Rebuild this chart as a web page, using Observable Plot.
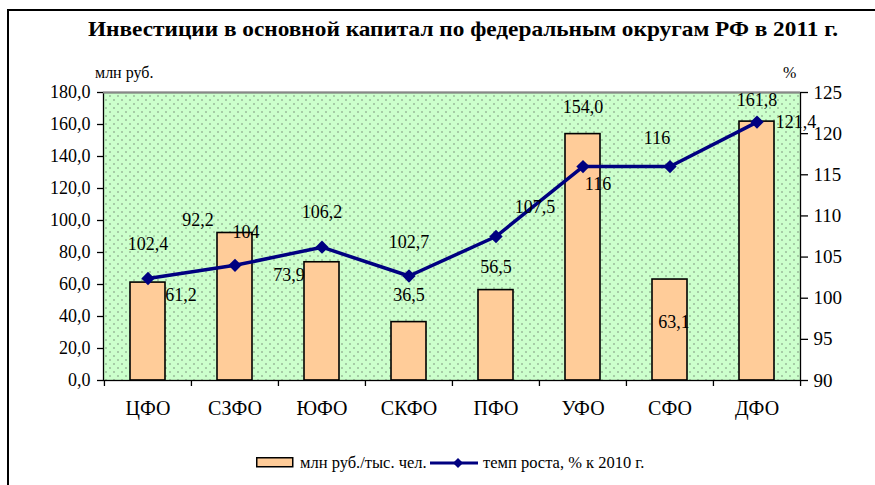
<!DOCTYPE html>
<html>
<head>
<meta charset="utf-8">
<script src="https://cdn.jsdelivr.net/npm/d3@7"></script>
<script src="https://cdn.jsdelivr.net/npm/@observablehq/plot@0.6"></script>
<style>
  html, body { margin: 0; padding: 0; background: #fff; }
  #wrap { position: relative; width: 875px; height: 485px; overflow: hidden; font-family: "Liberation Serif", "Times New Roman", serif; color: #000; }
  #border { position: absolute; left: 7px; top: 9px; width: 950px; height: 560px; border-left: 2.5px solid #000; border-top: 2.5px solid #000; }
  #title { position: absolute; left: 88px; top: 18px; font-weight: bold; font-size: 22px; line-height: 22px; white-space: nowrap; transform-origin: left top; }
  .unit { position: absolute; font-size: 16px; line-height: 16px; white-space: nowrap; }
  #chart { position: absolute; left: 0; top: 50px; }
  #chart svg text { font-family: "Liberation Serif", "Times New Roman", serif; }
  .leg { position: absolute; font-size: 16.5px; line-height: 16.5px; white-space: nowrap; }
</style>
</head>
<body>
<div id="wrap">
  <div id="border"></div>
  <div id="title">Инвестиции в основной капитал по федеральным округам РФ в 2011 г.</div>
  <div class="unit" style="left:95px; top:65px;">млн руб.</div>
  <div class="unit" style="left:783px; top:65px;">%</div>
  <div id="chart"></div>
  <svg class="leg" style="left:256px; top:457px;" width="40" height="12"><rect x="0.75" y="0.75" width="36" height="9" fill="#ffcc99" stroke="#000" stroke-width="1.5"/></svg>
  <div class="leg" style="left:300px; top:455px;">млн руб./тыс. чел.</div>
  <svg class="leg" style="left:428px; top:455px;" width="52" height="16"><line x1="2" y1="8" x2="50" y2="8" stroke="#000080" stroke-width="3"/><path d="M30,3 L35,8 L30,13 L25,8 Z" fill="#000080"/></svg>
  <div class="leg" style="left:483px; top:455px;">темп роста, % к 2010 г.</div>
</div>
<script>
// ---- data ----
const categories = ["ЦФО", "СЗФО", "ЮФО", "СКФО", "ПФО", "УФО", "СФО", "ДФО"];
const perCapita = [61.2, 92.2, 73.9, 36.5, 56.5, 154.0, 63.1, 161.8];   // млн руб./тыс. чел.
const growth = [102.4, 104, 106.2, 102.7, 107.5, 116, 116, 121.4];       // темп роста, % к 2010 г.
const leftTicks = [0, 20, 40, 60, 80, 100, 120, 140, 160, 180];
const rightTicks = [90, 95, 100, 105, 110, 115, 120, 125];
const leftDomain = [0, 180];
const rightDomain = [90, 125];

// ---- label nudges (pixel offsets, as in the original layout) ----
const barNudge = [[33, 13], [-37, -13], [-33, 13], [0, -27], [0, -23], [0, -27], [4, 43], [0, -21]];
const lineNudge = [[0, -34], [11, -33], [0, -35], [0, -34], [39, -29], [15, 18], [-13, -28], [39, 0]];

// ---- layout ----
const W = 875, H = 390, ML = 103, MR = 75, MT = 42, MB = 60;
const step = (W - ML - MR) / categories.length;

const toLeft = v => (v - rightDomain[0]) / (rightDomain[1] - rightDomain[0]) * (leftDomain[1] - leftDomain[0]) + leftDomain[0];
const fromLeft = v => (v - leftDomain[0]) / (leftDomain[1] - leftDomain[0]) * (rightDomain[1] - rightDomain[0]) + rightDomain[0];
const fmt1 = d => d.toFixed(1).replace(".", ",");
const fmtG = d => String(d).replace(".", ",");

const rows = categories.map((c, i) => ({c, v: perCapita[i], g: growth[i], gl: toLeft(growth[i])}));

const barLabels = rows.map((r, i) => Plot.text([r], {
  x: "c", y: "v", text: d => fmt1(d.v), dx: barNudge[i][0], dy: barNudge[i][1],
  fontSize: 18, fill: "#000"
}));
const lineLabels = rows.map((r, i) => Plot.text([r], {
  x: "c", y: "gl", text: d => fmtG(d.g), dx: lineNudge[i][0], dy: lineNudge[i][1],
  fontSize: 18, fill: "#000"
}));

const plot = Plot.plot({
  width: W, height: H,
  marginLeft: ML, marginRight: MR, marginTop: MT, marginBottom: MB,
  style: {fontFamily: "'Liberation Serif', 'Times New Roman', serif", fontSize: "18px", background: "transparent", color: "#000"},
  x: {domain: categories, paddingInner: 0.6, paddingOuter: 0.3},
  y: {domain: leftDomain},
  marks: [
    Plot.frame({fill: "url(#dots)", stroke: "none"}),
    Plot.barY(rows, {x: "c", y: "v", fill: "#ffcc99", stroke: "#000", strokeWidth: 1.6}),
    Plot.line(rows, {x: "c", y: "gl", stroke: "#000080", strokeWidth: 3.5}),
    Plot.dot(rows, {x: "c", y: "gl", symbol: "diamond2", r: 6, fill: "#000080", stroke: "none"}),
    Plot.frame({stroke: "#000", strokeWidth: 1.3, fill: "none"}),
    Plot.ruleY([leftDomain[1]], {stroke: "#888", strokeWidth: 2}),
    Plot.ruleX(categories, {x: d => d, y1: 0, y2: 0, insetBottom: -6, dx: -step / 2, stroke: "#000", strokeWidth: 1.3}),
    Plot.ruleX([categories[categories.length - 1]], {x: d => d, y1: 0, y2: 0, insetBottom: -6, dx: step / 2, stroke: "#000", strokeWidth: 1.3}),
    Plot.axisY(leftTicks, {anchor: "left", tickFormat: fmt1, tickSize: 6, tickPadding: 7, label: null, strokeWidth: 1.3, fontSize: 18}),
    Plot.axisY(rightTicks.map(toLeft), {anchor: "right", tickFormat: d => String(Math.round(fromLeft(d))), tickSize: 7, tickPadding: 6, label: null, strokeWidth: 1.3, fontSize: 19}),
    Plot.axisX({tickSize: 0, tickPadding: 20, label: null, fontSize: 20}),
    ...barLabels,
    ...lineLabels
  ]
});

// dotted green fill pattern for the plot area
const ns = "http://www.w3.org/2000/svg";
const defs = document.createElementNS(ns, "defs");
defs.innerHTML = '<pattern id="dots" patternUnits="userSpaceOnUse" width="8" height="8">' +
  '<rect width="8" height="8" fill="#ccffcc"/>' +
  '<rect x="1" y="1" width="1" height="1" fill="#333"/>' +
  '<rect x="5" y="5" width="1" height="1" fill="#333"/></pattern>';
plot.insertBefore(defs, plot.firstChild);
document.getElementById("chart").appendChild(plot);

// fit title width to the original
const t = document.getElementById("title");
const tw = t.getBoundingClientRect().width;
t.style.transform = `scaleX(${750 / tw})`;
</script>
</body>
</html>
